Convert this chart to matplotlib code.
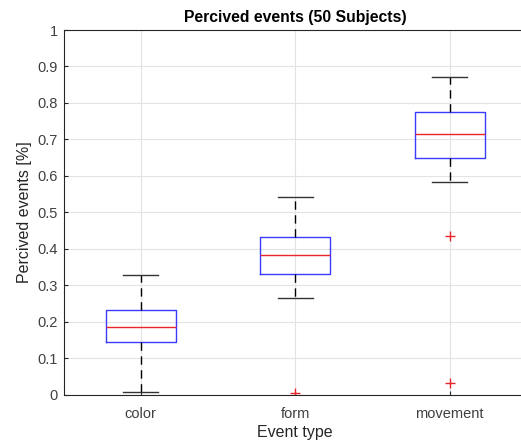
import numpy as np
from matplotlib import pyplot as plt

plt.rcParams["font.family"] = ["Liberation Sans", "DejaVu Sans"]

categories = ["color", "form", "movement"]
q1 = [0.143, 0.330, 0.650]
med = [0.184, 0.383, 0.716]
q3 = [0.233, 0.433, 0.775]
whislo = [0.007, 0.264, 0.584]
whishi = [0.329, 0.541, 0.871]
fliers = [[], [0.003], [0.434, 0.032]]

stats = []
for i, name in enumerate(categories):
    stats.append(dict(label=name, q1=q1[i], med=med[i], q3=q3[i],
                      whislo=whislo[i], whishi=whishi[i], fliers=fliers[i]))

fig = plt.figure(figsize=(5.21, 4.41), dpi=100)
ax = fig.add_axes([0.1219, 0.1054, 0.8896, 0.8265])

ax.bxp(stats, positions=[1, 2, 3], widths=0.455,
       boxprops=dict(color="#3b3bff", lw=1.0),
       medianprops=dict(color="#e8262b", lw=1.0),
       whiskerprops=dict(color="black", lw=1.0, ls=(0, (6, 4))),
       capprops=dict(color="#333333", lw=1.0),
       capwidths=0.227,
       flierprops=dict(marker="+", markeredgecolor="#e8262b", markersize=7, markeredgewidth=1.0, ls="none"))

ax.set_xlim(0.5, 3.5)
ax.set_ylim(0, 1)
ax.set_yticks(np.arange(0, 1.01, 0.1))
ax.set_yticklabels(["0", "0.1", "0.2", "0.3", "0.4", "0.5", "0.6", "0.7", "0.8", "0.9", "1"])
ax.grid(True, color="#e3e3e3", lw=0.8)
ax.set_axisbelow(True)
ax.tick_params(direction="in", length=3, colors="#262626", labelsize=10.5, labelcolor="#404040")
ax.tick_params(axis="x", pad=9)
ax.tick_params(axis="y", pad=4)
for s in ax.spines.values():
    s.set_color("#262626")
    s.set_linewidth(0.8)

ax.set_title("Percived events (50 Subjects)", fontsize=11.3, fontweight="bold", pad=6)
ax.set_xlabel("Event type", fontsize=11.5, color="#262626", labelpad=3)
ax.set_ylabel("Percived events [%]", fontsize=11.5, color="#262626", labelpad=4)

plt.savefig("out.png", dpi=100)
